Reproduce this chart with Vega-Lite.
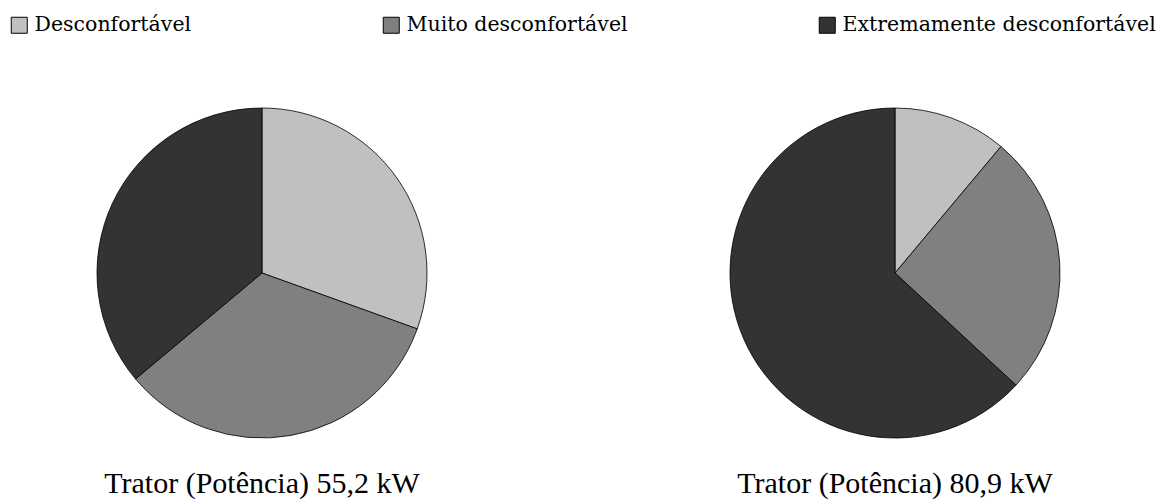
{
  "$schema": "https://vega.github.io/schema/vega-lite/v6.json",
  "padding": {"left": 0, "top": 6, "right": 0, "bottom": 0},
  "background": "white",
  "data": {
    "values": [
      {"trator": "Trator (Potência) 55,2 kW", "nivel": "Desconfortável", "ordem": 1, "valor": 30.5},
      {"trator": "Trator (Potência) 55,2 kW", "nivel": "Muito desconfortável", "ordem": 2, "valor": 33.4},
      {"trator": "Trator (Potência) 55,2 kW", "nivel": "Extremamente desconfortável", "ordem": 3, "valor": 36.1},
      {"trator": "Trator (Potência) 80,9 kW", "nivel": "Desconfortável", "ordem": 1, "valor": 11.1},
      {"trator": "Trator (Potência) 80,9 kW", "nivel": "Muito desconfortável", "ordem": 2, "valor": 25.8},
      {"trator": "Trator (Potência) 80,9 kW", "nivel": "Extremamente desconfortável", "ordem": 3, "valor": 63.1}
    ]
  },
  "facet": {
    "column": {
      "field": "trator",
      "type": "nominal",
      "header": {
        "title": null,
        "labelOrient": "bottom",
        "labelFont": "Liberation Serif",
        "labelFontSize": 30,
        "labelColor": "black",
        "labelPadding": 2
      }
    }
  },
  "spacing": 109,
  "spec": {
    "width": 524,
    "height": 388,
    "mark": {"type": "arc", "outerRadius": 165, "stroke": "black", "strokeWidth": 0.8},
    "encoding": {
      "theta": {"field": "valor", "type": "quantitative", "stack": true},
      "order": {"field": "ordem", "type": "quantitative"},
      "color": {
        "field": "nivel",
        "type": "nominal",
        "scale": {
          "domain": ["Desconfortável", "Muito desconfortável", "Extremamente desconfortável"],
          "range": ["#c0c0c0", "#808080", "#333333"]
        },
        "legend": {
          "title": null,
          "orient": "top",
          "direction": "horizontal",
          "columns": 3,
          "gridAlign": "none",
          "columnPadding": 189,
          "symbolType": "square",
          "symbolSize": 256,
          "symbolStrokeColor": "black",
          "symbolStrokeWidth": 1,
          "symbolOpacity": 1,
          "labelFont": "DejaVu Serif",
          "labelFontSize": 20.5,
          "labelColor": "black",
          "labelLimit": 600,
          "labelOffset": 5,
          "padding": 9,
          "offset": 34.5
        }
      }
    }
  },
  "config": {"view": {"stroke": null}}
}
